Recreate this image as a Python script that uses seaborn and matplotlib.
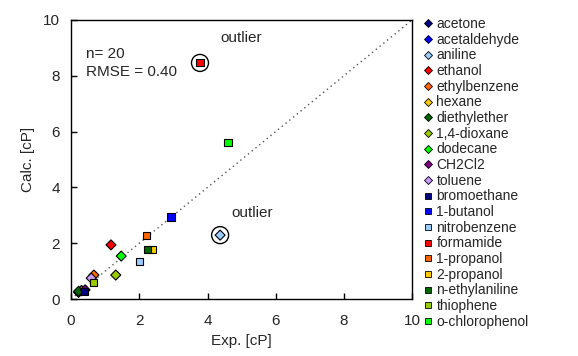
import numpy as np
import pandas as pd
import seaborn as sns
import matplotlib.pyplot as plt

# compounds, experimental and calculated viscosity (cP)
names = ['acetone', 'acetaldehyde', 'aniline', 'ethanol', 'ethylbenzene', 'hexane',
         'diethylether', '1,4-dioxane', 'dodecane', 'CH2Cl2', 'toluene', 'bromoethane',
         '1-butanol', 'nitrobenzene', 'formamide', '1-propanol', '2-propanol',
         'n-ethylaniline', 'thiophene', 'o-chlorophenol']
exp_vals = [0.31, 0.22, 4.37, 1.17, 0.67, 0.30, 0.22, 1.31, 1.47, 0.41, 0.59, 0.39,
            2.93, 2.00, 3.78, 2.20, 2.40, 2.23, 0.65, 4.60]
calc_vals = [0.30, 0.24, 2.29, 1.94, 0.86, 0.30, 0.28, 0.86, 1.54, 0.33, 0.75, 0.28,
             2.94, 1.33, 8.46, 2.29, 1.79, 1.76, 0.60, 5.60]
colors = ['#000080', '#0000FF', '#99CCFF', '#FF0000', '#FF6600', '#FFCC00',
          '#006600', '#99CC00', '#00FF00', '#800080', '#CC99FF', '#000080',
          '#0000FF', '#99CCFF', '#FF0000', '#FF6600', '#FFCC00', '#006600',
          '#99CC00', '#00FF00']
shapes = ['D'] * 11 + ['s'] * 9

df = pd.DataFrame({'name': names, 'exp': exp_vals, 'calc': calc_vals})

sns.set_style('ticks')
plt.rcParams['font.family'] = ['Liberation Sans', 'DejaVu Sans']

fig = plt.figure(figsize=(5.78, 3.56), dpi=100)
ax = fig.add_axes([0.123, 0.160, 0.590, 0.784])

# diagonal y = x
ax.plot([0, 10], [0, 10], color='#555555', ls=(0, (1, 2.5)), lw=1, zorder=1)

sns.scatterplot(data=df, x='exp', y='calc', hue='name', style='name',
                palette=dict(zip(names, colors)), markers=dict(zip(names, shapes)),
                s=26, edgecolor='black', linewidth=0.8, ax=ax, zorder=3)

# outlier rings
for nm in ['formamide', 'aniline']:
    r = df[df.name == nm].iloc[0]
    ax.scatter(r.exp, r.calc, s=150, facecolors='none', edgecolors='black',
               linewidths=1, zorder=2)
ax.text(4.37, 9.2, 'outlier', fontsize=11)
ax.text(4.69, 2.95, 'outlier', fontsize=11)

ax.text(0.45, 8.64, 'n= 20', fontsize=11)
ax.text(0.45, 7.99, 'RMSE = 0.40', fontsize=11)

ax.set_xlim(0, 10)
ax.set_ylim(0, 10)
ax.set_xticks(range(0, 11, 2))
ax.set_yticks(range(0, 11, 2))
ax.tick_params(direction='in', length=4, labelsize=11, width=1, color='black')
ax.tick_params(axis='x', pad=11)
ax.tick_params(axis='y', pad=8)
for sp in ax.spines.values():
    sp.set_visible(True)
    sp.set_color('black')
    sp.set_linewidth(1)
ax.set_xlabel('Exp. [cP]', fontsize=11, labelpad=4)
ax.set_ylabel('Calc. [cP]', fontsize=11, labelpad=6)

leg = ax.legend(loc='upper left', bbox_to_anchor=(1.01, 1.03), frameon=False,
                fontsize=10, labelspacing=0.12, handletextpad=0.1,
                handlelength=1.0, borderaxespad=0)
for h in leg.legend_handles:
    h.set_markersize(4.5)
    h.set_markeredgewidth(0.6)

fig.savefig('out.png', dpi=100)
